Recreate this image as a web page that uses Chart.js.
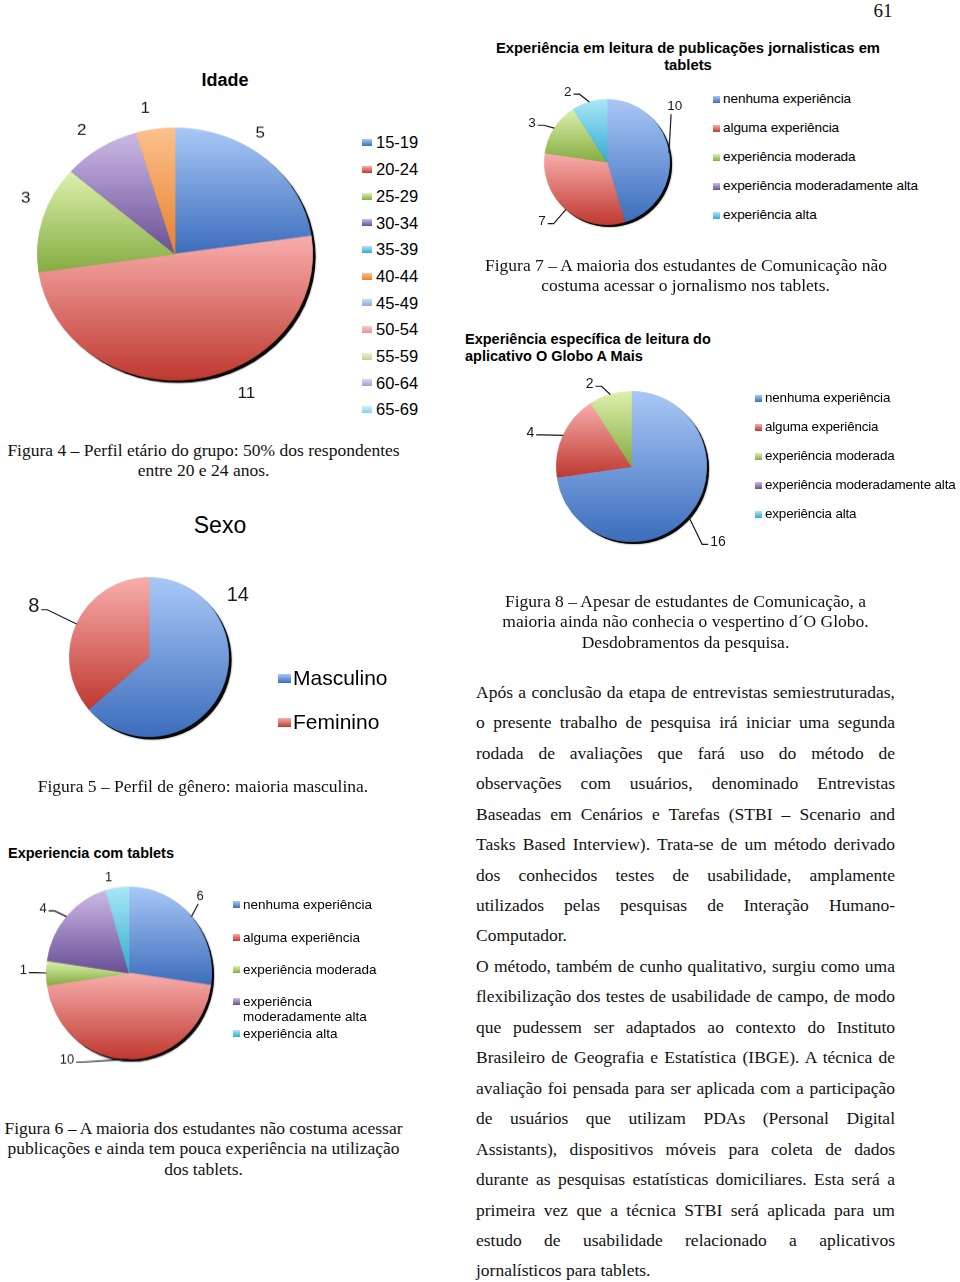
<!DOCTYPE html>
<html lang="pt-BR">
<head>
<meta charset="utf-8">
<script src="https://cdn.jsdelivr.net/npm/chart.js@4.4.1/dist/chart.umd.min.js"></script>
<style>
html,body{margin:0;padding:0;background:#fff;}
body{width:960px;height:1282px;position:relative;overflow:hidden;font-family:'Liberation Sans',Arial,sans-serif;color:#000;}
.abs{position:absolute;}
.serif{position:absolute;font-family:'Liberation Serif','Times New Roman',serif;font-size:17.5px;line-height:20.5px;white-space:nowrap;text-align:center;color:#111;}
.ct{position:absolute;font-weight:bold;font-size:14.5px;line-height:17px;white-space:nowrap;color:#000;}
.pie{position:absolute;}
.pie canvas{display:block;}
.legItem{position:absolute;display:flex;align-items:flex-start;color:#000;}
.legItem .mk{flex:none;display:block;}
.body{position:absolute;left:476px;top:676.8px;width:419px;font-family:'Liberation Serif','Times New Roman',serif;font-size:17.5px;line-height:30.45px;color:#111;}
.body div{white-space:nowrap;text-align:justify;text-align-last:justify;}
.body div.last{text-align-last:left;}
</style>
</head>
<body>

<div class="abs" style="left:853px;top:0;width:60px;text-align:center;font-family:'Liberation Serif',serif;font-size:19px;line-height:22px;color:#111;">61</div>

<!-- chart titles -->
<div class="abs" style="left:125px;top:69px;width:200px;text-align:center;font-weight:bold;font-size:18px;line-height:22px;">Idade</div>
<div class="abs" style="left:120px;top:511px;width:200px;text-align:center;font-size:23px;line-height:28px;">Sexo</div>
<div class="ct" style="left:488px;top:39.5px;width:400px;text-align:center;font-size:14.8px;">Experiência em leitura de publicações jornalisticas em<br>tablets</div>
<div class="ct" style="left:465px;top:330.5px;">Experiência específica de leitura do<br>aplicativo O Globo A Mais</div>
<div class="ct" style="left:8px;top:844.5px;">Experiencia com tablets</div>

<!-- pies -->
<div class="pie" id="wIdade" style="left:1px;top:79.5px;width:348px;height:348px;transform:scaleY(0.9167);transform-origin:50% 50%;"><canvas id="cIdade"></canvas></div>
<div class="pie" id="wSexo" style="left:17px;top:525px;width:264px;height:264px;"><canvas id="cSexo"></canvas></div>
<div class="pie" id="wTablet" style="left:9.5px;top:853.5px;width:238px;height:238px;transform:scaleY(1.042);transform-origin:50% 50%;"><canvas id="cTablet"></canvas></div>
<div class="pie" id="wLeitura" style="left:501.5px;top:57px;width:210px;height:210px;"><canvas id="cLeitura"></canvas></div>
<div class="pie" id="wGlobo" style="left:499.5px;top:334.5px;width:263px;height:263px;"><canvas id="cGlobo"></canvas></div>

<div id="legends"></div>

<!-- captions -->
<div class="serif" style="left:0;top:439.75px;width:407px;">Figura 4 – Perfil etário do grupo: 50% dos respondentes<br>entre 20 e 24 anos.</div>
<div class="serif" style="left:0;top:775.75px;width:406px;">Figura 5 – Perfil de gênero: maioria masculina.</div>
<div class="serif" style="left:0;top:1117.75px;width:407px;">Figura 6 – A maioria dos estudantes não costuma acessar<br>publicações e ainda tem pouca experiência na utilização<br>dos tablets.</div>
<div class="serif" style="left:485px;top:254.75px;width:401px;">Figura 7 – A maioria dos estudantes de Comunicação não<br>costuma acessar o jornalismo nos tablets.</div>
<div class="serif" style="left:485px;top:590.75px;width:401px;">Figura 8 – Apesar de estudantes de Comunicação, a<br>maioria ainda não conhecia o vespertino d´O Globo.<br>Desdobramentos da pesquisa.</div>

<div class="body">
<div>Após a conclusão da etapa de entrevistas semiestruturadas,</div>
<div>o presente trabalho de pesquisa irá iniciar uma segunda</div>
<div>rodada de avaliações que fará uso do método de</div>
<div>observações com usuários, denominado Entrevistas</div>
<div>Baseadas em Cenários e Tarefas (STBI – Scenario and</div>
<div>Tasks Based Interview). Trata-se de um método derivado</div>
<div>dos conhecidos testes de usabilidade, amplamente</div>
<div>utilizados pelas pesquisas de Interação Humano-</div>
<div class="last">Computador.</div>
<div>O método, também de cunho qualitativo, surgiu como uma</div>
<div>flexibilização dos testes de usabilidade de campo, de modo</div>
<div>que pudessem ser adaptados ao contexto do Instituto</div>
<div>Brasileiro de Geografia e Estatística (IBGE). A técnica de</div>
<div>avaliação foi pensada para ser aplicada com a participação</div>
<div>de usuários que utilizam PDAs (Personal Digital</div>
<div>Assistants), dispositivos móveis para coleta de dados</div>
<div>durante as pesquisas estatísticas domiciliares. Esta será a</div>
<div>primeira vez que a técnica STBI será aplicada para um</div>
<div>estudo de usabilidade relacionado a aplicativos</div>
<div class="last">jornalísticos para tablets.</div>
</div>

<script>
// ---------- DATA ----------
const idadeLabels = ['15-19','20-24','25-29','30-34','35-39','40-44','45-49','50-54','55-59','60-64','65-69'];
const idadeValues = [5, 11, 3, 2, 0, 1, 0, 0, 0, 0, 0];

const sexoLabels = ['Masculino','Feminino'];
const sexoValues = [14, 8];

const experienciaLabels = ['nenhuma experiência','alguma experiência','experiência moderada','experiência moderadamente alta','experiência alta'];
const tabletValues  = [6, 10, 1, 4, 1];   // Experiencia com tablets
const leituraValues = [10, 7, 3, 0, 2];   // Experiência em leitura de publicações jornalisticas em tablets
const globoValues   = [16, 4, 2, 0, 0];   // Experiência específica de leitura do aplicativo O Globo A Mais

// ---------- STYLE ----------
const PAL = {
  blue:['#A9C8F6','#3C6DBC'], red:['#F8AEAC','#BF3930'], green:['#DDF1AD','#85AC42'],
  purple:['#CDBAE7','#6A4F95'], cyan:['#ABE7F8','#33ABD1'], orange:['#FBC18E','#E8812B'],
  ltblue:['#CCDCF6','#8BA9DA'], ltred:['#F9CBCB','#E29393'], ltgreen:['#EAF6CE','#BAD58B'],
  ltpurple:['#DFD4EF','#AB9ACA'], ltcyan:['#CEF2FB','#84D2E7']
};
const idadeKeys = ['blue','red','green','purple','cyan','orange','ltblue','ltred','ltgreen','ltpurple','ltcyan'];
const sexoKeys = ['blue','red'];
const expKeys = ['blue','red','green','purple','cyan'];

function slicePaint(c, keys){
  const base = PAL[keys[c.dataIndex % keys.length]] || PAL.blue;
  if (c.type !== 'data') return base[1];
  const ch = c.chart, a = ch.chartArea;
  if (!a) return base[1];
  const data = c.dataset.data;
  const total = data.reduce((s,v)=>s+v,0);
  let before = 0; for (let i=0;i<c.dataIndex;i++) before += data[i];
  const a0 = -Math.PI/2 + before/total*2*Math.PI;
  const a1 = a0 + data[c.dataIndex]/total*2*Math.PI;
  const cx=(a.left+a.right)/2, cy=(a.top+a.bottom)/2, r=Math.min(a.width,a.height)/2;
  const ys=[cy, cy+r*Math.sin(a0), cy+r*Math.sin(a1)];
  if (a0 <= Math.PI/2 && a1 >= Math.PI/2) ys.push(cy+r);
  if (a0 <= -Math.PI/2+1e-9 || a1 >= 1.5*Math.PI-1e-9) ys.push(cy-r);
  let y0=Math.min(...ys), y1=Math.max(...ys); if (y1-y0<1) y1=y0+1;
  const g = ch.ctx.createLinearGradient(0,y0,0,y1);
  g.addColorStop(0, base[0]); g.addColorStop(1, base[1]);
  return g;
}

function makePie(canvasId, labels, values, keys, st){
  const decor = {
    id: 'decor',
    beforeDatasetsDraw(chart){
      const el = chart.getDatasetMeta(0).data[0];
      const {x, y, outerRadius: r} = el.getProps(['x','y','outerRadius'], true);
      const ctx = chart.ctx;
      ctx.save();
      ctx.shadowColor = 'rgba(0,0,0,0.6)'; ctx.shadowBlur = 2;
      ctx.fillStyle = '#0a0a0a';
      ctx.beginPath(); ctx.arc(x+st.sh, y+st.sh, r, 0, 2*Math.PI); ctx.fill();
      ctx.restore();
    },
    afterDatasetsDraw(chart){
      const ctx = chart.ctx, meta = chart.getDatasetMeta(0);
      ctx.save();
      ctx.font = st.fontPx + "px 'Liberation Sans', Arial, sans-serif";
      ctx.fillStyle = '#1a1a1a'; ctx.strokeStyle = '#1a1a1a'; ctx.lineWidth = 1.2;
      ctx.textAlign = 'center'; ctx.textBaseline = 'middle';
      meta.data.forEach((el, i) => {
        const v = values[i]; if (!v) return;
        const p = el.getProps(['x','y','startAngle','endAngle','outerRadius'], true);
        const r = p.outerRadius, mid = (p.startAngle + p.endAngle)/2;
        const la = mid + (st.shift[i]||0)*Math.PI/180, k = st.k[i]||1.2;
        const lx = p.x + Math.cos(la)*r*k, ly = p.y + Math.sin(la)*r*k;
        ctx.fillText(String(v), lx, ly);
        if (st.leader[i]) {
          const px = p.x + Math.cos(mid)*r, py = p.y + Math.sin(mid)*r;
          const w = ctx.measureText(String(v)).width, h = st.fontPx;
          const dx = px-lx, dy = py-ly;
          ctx.beginPath();
          if (Math.abs(dy) > Math.abs(dx)*1.5) {
            ctx.moveTo(lx + Math.sign(dx)*w*0.25, ly + Math.sign(dy)*(h/2+1));
            ctx.lineTo(px, py);
          } else {
            const dir = Math.sign(dx) || 1;
            const ex = lx + dir*(w/2+2), ey = ly + h*0.15;
            ctx.moveTo(ex, ey); ctx.lineTo(ex + dir*6, ey); ctx.lineTo(px, py);
          }
          ctx.stroke();
        }
      });
      ctx.restore();
    }
  };
  return new Chart(document.getElementById(canvasId), {
    type: 'pie',
    data: { labels: labels, datasets: [{
      data: values,
      backgroundColor: c => slicePaint(c, keys),
      borderColor: c => slicePaint(c, keys),
      borderWidth: 0.8
    }]},
    options: {
      responsive: true, maintainAspectRatio: false, animation: false, events: [],
      layout: { padding: st.pad },
      plugins: { legend: { display: false }, title: { display: false }, tooltip: { enabled: false } }
    },
    plugins: [decor]
  });
}

makePie('cIdade', idadeLabels, idadeValues, idadeKeys, {
  pad: 36, sh: 3, fontPx: 17,
  shift: [-8, -17, 5.6, -2, 0, -2.5], k: [1.14, 1.22, 1.17, 1.19, 1.2, 1.17],
  leader: [false, false, false, false, false, false]
});
makePie('cSexo', sexoLabels, sexoValues, sexoKeys, {
  pad: 52, sh: 3, fontPx: 20,
  shift: [-59.4, -1], k: [1.36, 1.58], leader: [false, true]
});
makePie('cTablet', experienciaLabels, tabletValues, expKeys, {
  pad: 36, sh: 2.5, fontPx: 13,
  shift: [-5.2, 36.6, 1.3, -5.3, -4.3], k: [1.24, 1.26, 1.28, 1.28, 1.14],
  leader: [true, true, true, true, false]
});
makePie('cLeitura', experienciaLabels, leituraValues, expKeys, {
  pad: 42, sh: 2.5, fontPx: 13.5,
  shift: [-31.1, 6.6, -5.4, 0, -13], k: [1.40, 1.41, 1.35, 1.3, 1.28],
  leader: [true, true, true, false, true]
});
makePie('cGlobo', experienciaLabels, globoValues, expKeys, {
  pad: 56, sh: 2.5, fontPx: 14,
  shift: [0.3, -6.1, -10.6, 0, 0], k: [1.53, 1.42, 1.23, 1.2, 1.2],
  leader: [true, true, true, false, false]
});

// ---------- LEGENDS (HTML) ----------
function legend(labels, keys, st){
  const host = document.getElementById('legends');
  labels.forEach((lab, i) => {
    const base = PAL[keys[i]];
    const it = document.createElement('div');
    it.className = 'legItem';
    it.style.left = st.x + 'px';
    it.style.top = (st.ys[i] - st.lh/2) + 'px';
    it.style.fontSize = st.font + 'px';
    it.style.lineHeight = st.lh + 'px';
    if (st.ls) it.style.letterSpacing = st.ls + 'px';
    const mk = document.createElement('span');
    mk.className = 'mk';
    mk.style.width = st.mw + 'px'; mk.style.height = st.mh + 'px';
    mk.style.marginTop = ((st.lh - st.mh)/2) + 'px';
    mk.style.marginRight = st.gap + 'px';
    mk.style.background = 'linear-gradient(' + base[0] + ',' + base[1] + ')';
    const tx = document.createElement('span');
    tx.textContent = lab;
    if (st.wrap) { tx.style.width = st.wrap + 'px'; tx.style.whiteSpace = 'normal'; }
    else tx.style.whiteSpace = 'nowrap';
    it.appendChild(mk); it.appendChild(tx);
    host.appendChild(it);
  });
}
legend(idadeLabels, idadeKeys, {x:362, ys:[142,169,196,222.5,249,276,302.5,329,356,382.5,409], font:16.5, lh:20, mw:10, mh:7, gap:4});
legend(sexoLabels, sexoKeys, {x:278, ys:[678,722], font:21, lh:24, mw:13, mh:9, gap:2});
legend(experienciaLabels, expKeys, {x:713, ys:[99,128,157,186,215], font:13.6, lh:16, mw:7, mh:7, gap:3, ls:-0.1});
legend(experienciaLabels, expKeys, {x:755, ys:[398,427,456,485,514], font:13.4, lh:16, mw:7, mh:7, gap:3, ls:-0.15});
legend(experienciaLabels, expKeys, {x:233, ys:[904,937,969,1001,1033], font:13.5, lh:15, mw:7, mh:7, gap:3, wrap:150});
</script>
</body>
</html>
